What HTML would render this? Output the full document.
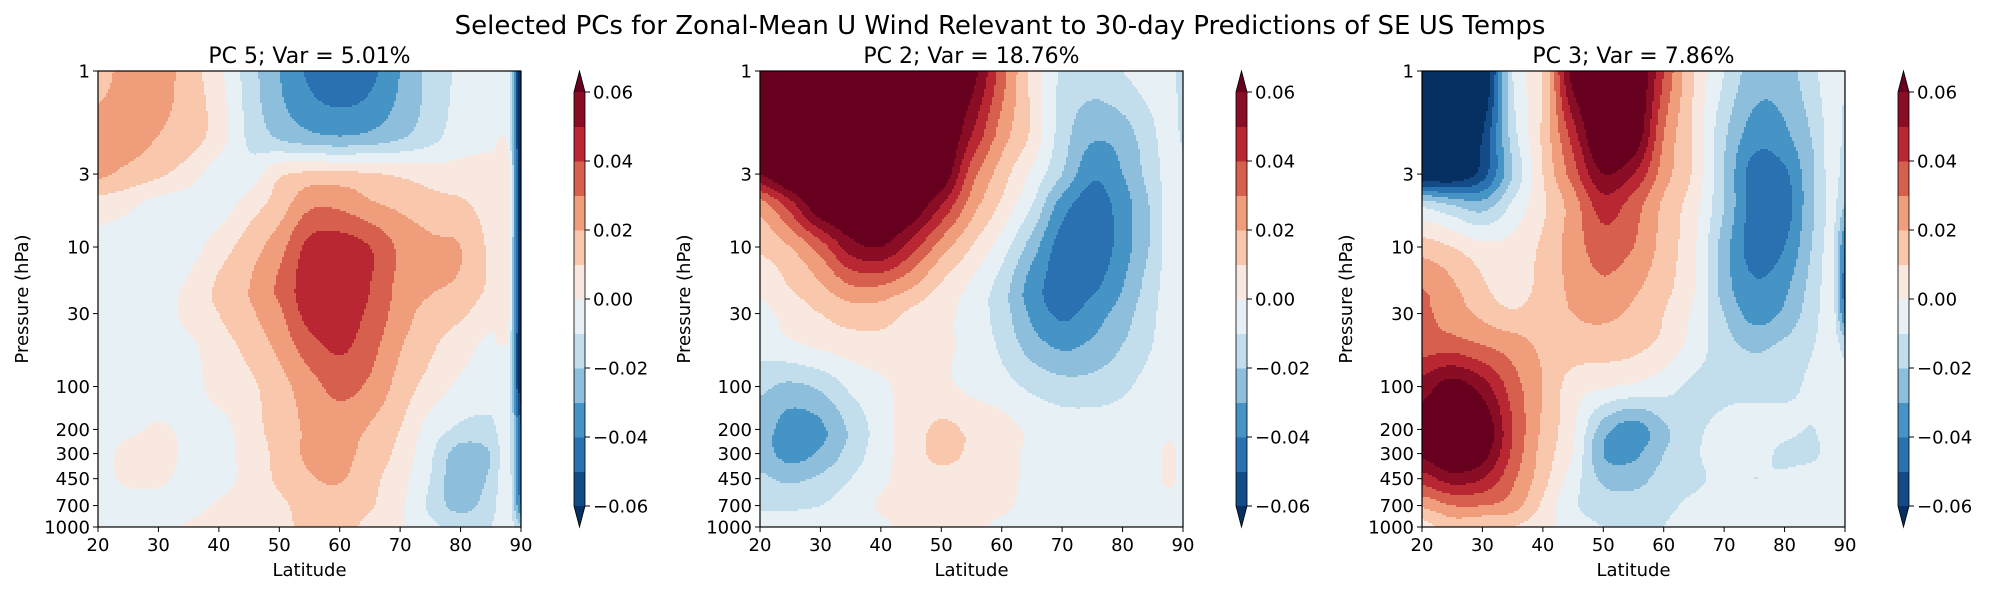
<!DOCTYPE html>
<html><head><meta charset="utf-8">
<style>
html,body{margin:0;padding:0;background:#fff;}
svg{display:block;font-family:"DejaVu Sans","Liberation Sans",sans-serif;}
</style></head>
<body>
<svg id="chart" width="2000" height="600" viewBox="0 0 2000 600" xmlns="http://www.w3.org/2000/svg">
<text x="1000" y="34" font-size="26" text-anchor="middle">Selected PCs for Zonal-Mean U Wind Relevant to 30-day Predictions of SE US Temps</text>
</svg>
<script>
const lats = [20,25,30,35,40,45,50,55,60,65,70,75,80,85,88,90];
const pressures = [1,2,3,5,10,20,30,50,100,200,300,450,700,1000];
const yTicks = [1,3,10,30,100,200,300,450,700,1000];
const yTickFrac = [0,0.226,0.386,0.532,0.692,0.786,0.839,0.894,0.953,1];
const xTicks = [20,30,40,50,60,70,80,90];
const cbarTicks = [0.06,0.04,0.02,0.00,-0.02,-0.04,-0.06];
const levels = [-0.06,-0.05,-0.04,-0.03,-0.02,-0.01,0,0.01,0.02,0.03,0.04,0.05,0.06];
const levelColors = ["#053061","#134b87","#2a71b2","#4694c6","#8dbfdd","#c2ddec","#e7f0f4","#f9e8e0","#f8c7ac","#ef9d7a","#d6604d","#b92732","#8a0d26","#67001f"];
const titles = ["PC 5; Var = 5.01%","PC 2; Var = 18.76%","PC 3; Var = 7.86%"];

const pc5 = [
[.015,.025,.025,.015,.003,-.015,-.03,-.042,-.047,-.043,-.03,-.017,-.008,-.005,-.004,-.07],
[.025,.025,.02,.015,.005,-.012,-.022,-.028,-.03,-.028,-.022,-.014,-.005,-.004,-.004,-.07],
[.022,.017,.012,.005,-.005,-.006,.008,.012,.012,.011,.008,.005,.004,.005,.003,-.07],
[.005,.002,-.004,-.005,-.005,.005,.015,.028,.028,.022,.018,.014,.012,.006,.003,-.07],
[-.003,-.005,-.005,-.004,.005,.015,.026,.043,.045,.04,.028,.022,.02,.008,.002,-.07],
[-.005,-.005,-.005,.002,.012,.02,.032,.046,.047,.04,.027,.021,.018,.008,.002,-.07],
[-.005,-.005,-.005,.003,.01,.018,.028,.044,.045,.038,.025,.016,.012,.003,.001,-.07],
[-.005,-.005,-.005,-.002,.006,.013,.023,.036,.042,.034,.021,.012,.004,-.002,-.003,-.07],
[-.005,-.005,-.005,-.004,.004,.008,.016,.026,.033,.028,.016,.006,-.002,-.004,-.004,-.07],
[-.004,-.002,.001,-.002,-.004,.006,.014,.022,.025,.019,.01,-.004,-.012,-.013,-.005,-.05],
[-.004,.003,.004,-.002,-.004,.004,.013,.022,.023,.016,.007,-.008,-.025,-.02,-.006,-.05],
[-.004,.002,.002,-.003,-.003,.003,.012,.019,.021,.013,.004,-.01,-.028,-.018,-.005,-.05],
[-.005,-.005,-.004,-.003,.001,.004,.008,.014,.014,.011,.002,-.012,-.024,-.014,-.005,-.04],
[-.005,-.005,-.004,.001,.004,.006,.008,.012,.012,.008,.001,-.008,-.012,-.01,-.004,-.02]
];
const pc2 = [
[.075,.075,.075,.075,.075,.075,.075,.065,.035,.007,-.012,-.015,-.01,-.005,-.006,-.015],
[.075,.075,.075,.075,.075,.075,.075,.05,.025,.008,-.015,-.028,-.025,-.012,-.005,-.012],
[.06,.075,.075,.075,.075,.075,.07,.035,.015,-.002,-.02,-.038,-.03,-.015,-.005,-.005],
[.025,.045,.07,.075,.075,.07,.05,.025,.008,-.01,-.035,-.045,-.035,-.018,-.005,-.005],
[.012,.02,.035,.055,.06,.045,.025,.01,-.005,-.025,-.045,-.048,-.035,-.018,-.005,-.004],
[.002,.01,.018,.028,.028,.02,.008,-.002,-.015,-.035,-.045,-.042,-.03,-.014,-.005,-.004],
[-.003,.004,.01,.015,.015,.008,.003,-.004,-.015,-.032,-.042,-.035,-.025,-.012,-.005,-.004],
[-.006,-.002,.002,.005,.006,.004,.002,-.003,-.012,-.025,-.032,-.028,-.02,-.01,-.004,-.004],
[-.018,-.022,-.018,-.008,-.002,.003,.002,-.002,-.006,-.012,-.016,-.016,-.012,-.006,-.004,-.004],
[-.025,-.035,-.032,-.018,-.005,.005,.012,.008,.004,-.002,-.005,-.005,-.005,-.004,-.002,-.004],
[-.025,-.034,-.028,-.016,-.004,.005,.013,.008,.004,-.002,-.004,-.004,-.004,-.003,.002,-.004],
[-.018,-.022,-.018,-.01,-.002,.004,.006,.005,.003,-.002,-.004,-.004,-.004,-.003,.002,-.004],
[-.012,-.012,-.01,-.005,.001,.004,.004,.004,.002,-.003,-.004,-.004,-.004,-.004,-.004,-.004],
[-.005,-.005,-.005,-.005,-.002,.003,.003,.002,-.002,-.004,-.004,-.004,-.004,-.004,-.004,-.004]
];
const pc3 = [
[-.075,-.075,-.075,-.01,.01,.065,.075,.075,.04,.01,-.01,-.025,-.025,-.012,-.004,-.01],
[-.075,-.075,-.06,-.015,.012,.045,.075,.07,.03,.008,-.018,-.035,-.032,-.018,-.005,-.012],
[-.07,-.07,-.055,-.02,.01,.035,.06,.05,.025,.008,-.02,-.045,-.042,-.02,-.006,-.015],
[-.012,-.02,-.025,-.008,.008,.025,.045,.035,.018,.004,-.02,-.045,-.045,-.02,-.008,-.02],
[.015,.01,.003,.003,.012,.025,.035,.03,.016,.002,-.025,-.045,-.04,-.018,-.008,-.04],
[.03,.022,.012,.004,.014,.022,.028,.022,.013,.001,-.025,-.038,-.032,-.015,-.007,-.045],
[.032,.025,.018,.012,.016,.02,.022,.018,.01,-.002,-.02,-.034,-.028,-.013,-.006,-.04],
[.035,.035,.03,.025,.018,.016,.015,.013,.007,-.004,-.016,-.022,-.018,-.01,-.005,-.015],
[.055,.065,.055,.035,.02,.005,.001,-.002,-.006,-.012,-.012,-.013,-.012,-.008,-.004,-.006],
[.065,.075,.07,.04,.018,.002,-.025,-.035,-.022,-.012,-.008,-.006,-.008,-.01,-.003,-.004],
[.062,.072,.065,.038,.016,.0,-.03,-.032,-.02,-.012,-.004,-.006,-.012,-.012,-.003,-.004],
[.045,.055,.05,.032,.014,-.005,-.022,-.024,-.016,-.012,-.008,-.01,-.008,-.004,-.004,-.004],
[.022,.03,.03,.025,.008,-.008,-.015,-.015,-.012,-.008,-.004,-.004,-.004,-.004,-.004,-.004],
[.006,.015,.012,.01,.004,-.005,-.01,-.01,-.01,-.006,-.004,-.004,-.004,-.004,-.004,-.004]
];
const panelData = [pc5, pc2, pc3];

const NS = "http://www.w3.org/2000/svg";
const svg = document.getElementById("chart");
const PW = 423, PT = 71, PH = 456, CB_OFF = 53, CBW = 11;
const panelLefts = [98, 760, 1422];

function mk(tag, attrs, parent){ const e=document.createElementNS(NS,tag); for(const k in attrs) e.setAttribute(k,attrs[k]); (parent||svg).appendChild(e); return e; }
function pFrac(p){
  for(let i=0;i<yTicks.length-1;i++){
    if(p<=yTicks[i+1]){ const t=Math.log(p/yTicks[i])/Math.log(yTicks[i+1]/yTicks[i]); return yTickFrac[i]+t*(yTickFrac[i+1]-yTickFrac[i]); }
  }
  return 1;
}
const rowFrac = pressures.map(pFrac);
function colorFor(v){ let i=0; while(i<levels.length && v>=levels[i]) i++; return levelColors[i]; }
function fracIndex(arr, v){
  let i=0; while(i<arr.length-2 && v>arr[i+1]) i++;
  const t=Math.min(1,Math.max(0,(v-arr[i])/(arr[i+1]-arr[i])));
  return [i,t];
}
function cr(p0,p1,p2,p3,t){
  return 0.5*((2*p1)+(-p0+p2)*t+(2*p0-5*p1+4*p2-p3)*t*t+(-p0+3*p1-3*p2+p3)*t*t*t);
}
function sample(grid, lat, f){
  const [i,tx]=fracIndex(lats,lat);
  const [j,ty]=fracIndex(rowFrac,f);
  const nc=lats.length, nr=rowFrac.length;
  const cl=(a,n)=>Math.max(0,Math.min(n-1,a));
  const rows=[];
  for(let m=-1;m<=2;m++){
    const r=grid[cl(j+m,nr)];
    rows.push(cr(r[cl(i-1,nc)],r[i],r[cl(i+1,nc)],r[cl(i+2,nc)],tx));
  }
  let v=cr(rows[0],rows[1],rows[2],rows[3],ty);
  const a=grid[j][i], b=grid[j][i+1], c=grid[j+1][i], d=grid[j+1][i+1];
  const mn=Math.min(a,b,c,d), mx=Math.max(a,b,c,d);
  return Math.max(mn,Math.min(mx,v));
}

panelData.forEach((grid, k) => {
  const L = panelLefts[k];
  const xs = lat => L + (lat-20)/70*PW;
  const ys = p => PT + pFrac(p)*PH;
  const g = mk("g", {});
  
  
  const field = mk("g", {"shape-rendering":"crispEdges"}, g);
  
  
  const step = 2;
  for(let py=0; py<PH; py+=step){
    const f=(py+step/2)/PH;
    const h=Math.min(step,PH-py);
    let runStart=0, runCol=null;
    const flush=(end)=>{
      const r = mk("rect",{x:L+runStart,y:PT+py,width:end-runStart,height:h+0.3,fill:runCol},field);
      
      
    };
    for(let px=0; px<PW; px+=step){
      const lat=20+Math.min(PW-0.5,px+step/2)/PW*70;
      const col=colorFor(sample(grid,lat,f));
      if(col!==runCol){
        if(runCol!==null) flush(px);
        runStart=px; runCol=col;
      }
    }
    if(runCol!==null) flush(PW);
  }
  const frame = mk("rect",{x:L,y:PT,width:PW,height:PH,fill:"none",stroke:"#000","stroke-width":1.2},g);
  
  
  const t = mk("text",{x:L+PW/2,y:63,"font-size":22,"text-anchor":"middle"},g); t.textContent=titles[k];
  
  
  xTicks.forEach(v=>{
    const x=xs(v);
    mk("line",{x1:x,x2:x,y1:PT+PH,y2:PT+PH+5,stroke:"#000","stroke-width":1},g);
    const tl=mk("text",{x:x,y:551,"font-size":18,"text-anchor":"middle"},g); tl.textContent=v;
    
    
  });
  yTicks.forEach(v=>{
    const y=ys(v);
    mk("line",{x1:L-5,x2:L,y1:y,y2:y,stroke:"#000","stroke-width":1},g);
    const tl=mk("text",{x:L-8,y:y+6.5,"font-size":18,"text-anchor":"end"},g); tl.textContent=v;
    
    
  });
  const xl=mk("text",{x:L+PW/2,y:576,"font-size":18,"text-anchor":"middle"},g); xl.textContent="Latitude";
  
  
  const yl=mk("text",{x:0,y:0,"font-size":18,"text-anchor":"middle",transform:`translate(${L-70},${PT+PH/2}) rotate(-90)`},g); yl.textContent="Pressure (hPa)";
  
  
  const cx = L+PW+CB_OFF, cTop=92, cBot=506, nb=levels.length-1, bh=(cBot-cTop)/nb;
  const cb = mk("g",{"shape-rendering":"crispEdges"},g);
  
  
  for(let i=0;i<nb;i++){
    const r=mk("rect",{x:cx,y:cBot-(i+1)*bh,width:CBW,height:bh+0.5,fill:levelColors[i+1]},cb);
    
    
  }
  const tu=mk("polygon",{points:`${cx},${cTop} ${cx+CBW},${cTop} ${cx+CBW/2},${PT}`,fill:levelColors[levelColors.length-1]},g);
  
  
  const td=mk("polygon",{points:`${cx},${cBot} ${cx+CBW},${cBot} ${cx+CBW/2},${PT+PH}`,fill:levelColors[0]},g);
  
  
  mk("polygon",{points:`${cx},${cTop} ${cx+CBW/2},${PT} ${cx+CBW},${cTop} ${cx+CBW},${cBot} ${cx+CBW/2},${PT+PH} ${cx},${cBot}`,fill:"none",stroke:"#000","stroke-width":0.8},g);
  cbarTicks.forEach(v=>{
    const y=cBot-(v-levels[0])/(levels[nb]-levels[0])*(cBot-cTop);
    mk("line",{x1:cx+CBW,x2:cx+CBW+5,y1:y,y2:y,stroke:"#000","stroke-width":1},g);
    const tl=mk("text",{x:cx+CBW+8,y:y+6.5,"font-size":18},g);
    tl.textContent=(v<0?"\u2212":"")+Math.abs(v).toFixed(2);
    
    
  });
});
</script>
</body></html>
